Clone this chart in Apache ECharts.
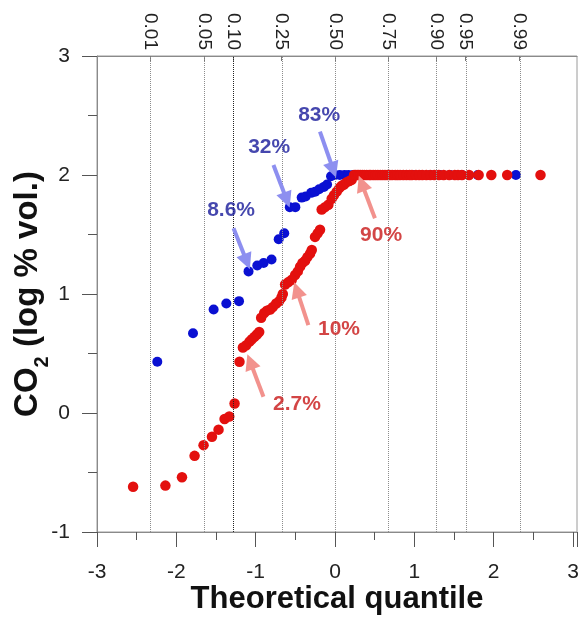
<!DOCTYPE html>
<html>
<head>
<meta charset="utf-8">
<script src="https://cdn.jsdelivr.net/npm/echarts@6/dist/echarts.min.js"></script>
<style>html,body{margin:0;padding:0;background:#fff;}#c{width:582px;height:625px;}</style>
</head>
<body>
<div id="c"></div>
<script>
// ---- data ----
var blueX = [-2.24, -1.79, -1.53, -1.37, -1.21, -1.09, -0.98, -0.90, -0.80, -0.71, -0.64, -0.57, -0.50,
  -0.42, -0.37, -0.30, -0.25, -0.20, -0.14, -0.10,
  -0.05, 0.0, 0.06, 0.12, 0.17, 0.23, 0.29, 0.35, 0.41, 0.47, 0.53, 0.60, 0.67, 0.74, 0.82, 0.90,
  0.99, 1.09, 1.20, 1.32, 1.45, 1.60, 1.80, 2.28];
var blueY = [0.43, 0.67, 0.87, 0.92, 0.94, 1.19, 1.24, 1.26, 1.29, 1.46, 1.51, 1.73, 1.73,
  1.81, 1.82, 1.85, 1.86, 1.88, 1.90, 1.92,
  1.99, 2.0, 2.0, 2.0, 2.0, 2.0, 2.0, 2.0, 2.0, 2.0, 2.0, 2.0, 2.0, 2.0, 2.0, 2.0,
  2.0, 2.0, 2.0, 2.0, 2.0, 2.0, 2.0, 2.0];

var redX = [-2.545, -2.138, -1.929, -1.77, -1.657, -1.551, -1.468, -1.392, -1.333, -1.266, -1.204,
  -1.161, -1.119, -1.078, -1.048, -1.015, -0.985, -0.956,
  -0.931, -0.893, -0.859, -0.818, -0.784, -0.742, -0.704, -0.675, -0.658,
  -0.629, -0.587, -0.545, -0.503, -0.469, -0.440, -0.411, -0.377, -0.348, -0.314, -0.293,
  -0.252, -0.218, -0.189,
  -0.168, -0.126, -0.084,
  -0.042, -0.013, 0.021, 0.054, 0.084, 0.113, 0.147, 0.180, 0.21,
  0.24, 0.26, 0.28, 0.30, 0.32, 0.345, 0.37, 0.40, 0.43, 0.45, 0.48, 0.51, 0.54, 0.57, 0.60,
  0.63, 0.66, 0.69, 0.72, 0.76, 0.79, 0.82, 0.86, 0.90, 0.94, 0.97, 1.02, 1.06, 1.10, 1.15,
  1.20, 1.25, 1.31, 1.37, 1.44, 1.51, 1.55, 1.60, 1.69, 1.81, 1.97, 2.17, 2.59];
var redY = [-0.62, -0.61, -0.54, -0.36, -0.27, -0.20, -0.14, -0.05, -0.03, 0.08, 0.43,
  0.55, 0.57, 0.60, 0.62, 0.64, 0.66, 0.68,
  0.80, 0.84, 0.86, 0.87, 0.89, 0.92, 0.94, 0.97, 1.00,
  1.08, 1.10, 1.12, 1.16, 1.19, 1.23, 1.26, 1.28, 1.31, 1.34, 1.37,
  1.48, 1.51, 1.54,
  1.71, 1.73, 1.75,
  1.80, 1.83, 1.86, 1.89, 1.91, 1.92, 1.94, 1.95, 1.96,
  2, 2, 2, 2, 2, 2, 2, 2, 2, 2, 2, 2, 2, 2, 2,
  2, 2, 2, 2, 2, 2, 2, 2, 2, 2, 2, 2, 2, 2, 2,
  2, 2, 2, 2, 2, 2, 2, 2, 2, 2, 2, 2, 2];

var probLabels = ['0.01', '0.05', '0.10', '0.25', '0.50', '0.75', '0.90', '0.95', '0.99'];
var probQuantiles = [-2.326, -1.645, -1.282, -0.674, 0, 0.674, 1.282, 1.645, 2.326];

var xTicks = [-3, -2, -1, 0, 1, 2, 3];
var yTicks = [-1, 0, 1, 2, 3];

// annotations
var annoLabels = ['83%', '32%', '8.6%', '90%', '10%', '2.7%'];
var annoGroup  = ['blue', 'blue', 'blue', 'red', 'red', 'red'];
var annoTextPos = [[-0.20, 2.50], [-0.83, 2.235], [-1.31, 1.70], [0.58, 1.49], [0.05, 0.70], [-0.48, 0.076]];
var arrowFrom = [[-0.19, 2.364], [-0.776, 2.084], [-1.279, 1.552], [0.503, 1.636], [-0.336, 0.739], [-0.902, 0.137]];
var arrowTo   = [[-0.021, 2.042], [-0.608, 1.790], [-1.111, 1.271], [0.336, 1.930], [-0.482, 1.034], [-1.069, 0.431]];

// ---- chart ----
var FONT = 'Liberation Sans, Arial, sans-serif';
var colors = {blue: '#0a10d2', red: '#e3100e'};
var textColors = {blue: '#17199a', red: '#c81616'};
var arrowColors = {blue: '#8d8ff0', red: '#f2928d'};

function zip(a, b) { return a.map(function (v, i) { return [v, b[i]]; }); }

var chart = echarts.init(document.getElementById('c'), null, {renderer: 'canvas'});

var option = {
  animation: false,
  backgroundColor: '#fff',
  grid: {left: 97, right: 5, top: 56, bottom: 93, containLabel: false, outerBoundsMode: 'none',
    show: true, borderColor: '#9a9a9a', borderWidth: 1},
  xAxis: [{
    type: 'value', min: -3, max: 3.05, interval: 1, position: 'bottom',
    name: 'Theoretical quantile', nameLocation: 'middle', nameGap: 52, nameMoveOverlap: false,
    nameTextStyle: {fontFamily: FONT, fontSize: 31, fontWeight: 'bold', color: '#111'},
    axisLine: {show: true, onZero: false, lineStyle: {color: '#8a8a8a', width: 1}},
    axisTick: {show: true, inside: false, length: 15, lineStyle: {color: '#555'}},
    minorTick: {show: true, splitNumber: 2, length: 8, lineStyle: {color: '#555'}},
    splitLine: {show: false},
    axisLabel: {fontFamily: FONT, fontSize: 21, color: '#222', margin: 30,
      formatter: function (v) { return xTicks.indexOf(v) >= 0 ? String(v) : ''; }}
  }, {
    type: 'value', min: -3, max: 3.05, position: 'top',
    axisLine: {show: true, onZero: false, lineStyle: {color: '#8a8a8a', width: 1}},
    axisTick: {show: true, inside: true, length: 5, customValues: probQuantiles, lineStyle: {color: '#777'}},
    splitLine: {show: false},
    axisLabel: {fontFamily: FONT, fontSize: 19, color: '#222', rotate: 90, margin: 6,
      customValues: probQuantiles,
      formatter: function (v) {
        for (var i = 0; i < probQuantiles.length; i++) {
          if (Math.abs(probQuantiles[i] - v) < 1e-6) return probLabels[i];
        }
        return '';
      }}
  }],
  yAxis: {
    type: 'value', min: -1, max: 3, interval: 1,
    name: 'CO{sub|2} (log % vol.)', nameLocation: 'middle', nameGap: 53, nameRotate: 90, nameMoveOverlap: false,
    nameTextStyle: {fontFamily: FONT, fontSize: 33, fontWeight: 'bold', color: '#111',
      rich: {sub: {fontFamily: FONT, fontSize: 20, fontWeight: 'bold', color: '#111', verticalAlign: 'bottom', lineHeight: 20, padding: [0, 0, -8, 0]}}},
    axisLine: {show: true, onZero: false, lineStyle: {color: '#8a8a8a', width: 1}},
    axisTick: {show: true, inside: false, length: 15, lineStyle: {color: '#555'}},
    minorTick: {show: true, splitNumber: 2, length: 9, lineStyle: {color: '#555'}},
    splitLine: {show: false},
    axisLabel: {fontFamily: FONT, fontSize: 21, color: '#222', margin: 27,
      formatter: function (v) { return yTicks.indexOf(v) >= 0 ? String(v) : ''; }}
  },
  series: [
    {
      type: 'scatter', name: 'refLines', data: [], z: 1, silent: true,
      markLine: {
        silent: true, symbol: ['none', 'none'], animation: false,
        label: {show: false},
        data: probQuantiles.map(function (q, i) {
          return {xAxis: q, lineStyle: {type: 'dotted', width: 1, color: probLabels[i] === '0.10' ? '#222' : '#8c8c8c'}};
        })
      }
    },
    {
      type: 'scatter', name: 'blue', data: zip(blueX, blueY), symbolSize: 10, z: 2,
      itemStyle: {color: colors.blue, opacity: 1}
    },
    {
      type: 'scatter', name: 'red', data: zip(redX, redY), symbolSize: 10.5, z: 3,
      itemStyle: {color: colors.red, opacity: 1}
    },
    {
      type: 'scatter', name: 'arrows', data: [], z: 4, silent: true,
      markLine: {
        silent: true, animation: false, symbol: ['none', 'triangle'], symbolSize: 16,
        label: {show: false},
        lineStyle: {width: 4, type: 'solid'},
        data: arrowFrom.map(function (f, i) {
          var c = arrowColors[annoGroup[i]];
          return [{coord: f, symbol: 'none', lineStyle: {color: c, width: 4, type: 'solid'}, itemStyle: {color: c}},
                  {coord: arrowTo[i], symbol: 'triangle', symbolSize: 16, itemStyle: {color: c}}];
        })
      }
    },
    {
      type: 'scatter', name: 'labels', z: 5, silent: true, symbolSize: 1,
      itemStyle: {color: 'rgba(0,0,0,0)'},
      data: annoLabels.map(function (t, i) {
        return {value: annoTextPos[i], name: t,
          label: {show: true, position: 'inside', formatter: t, fontFamily: FONT, fontSize: 21,
            fontWeight: 'bold', color: textColors[annoGroup[i]]}};
      })
    }
  ]
};
chart.setOption(option);
</script>
</body>
</html>
